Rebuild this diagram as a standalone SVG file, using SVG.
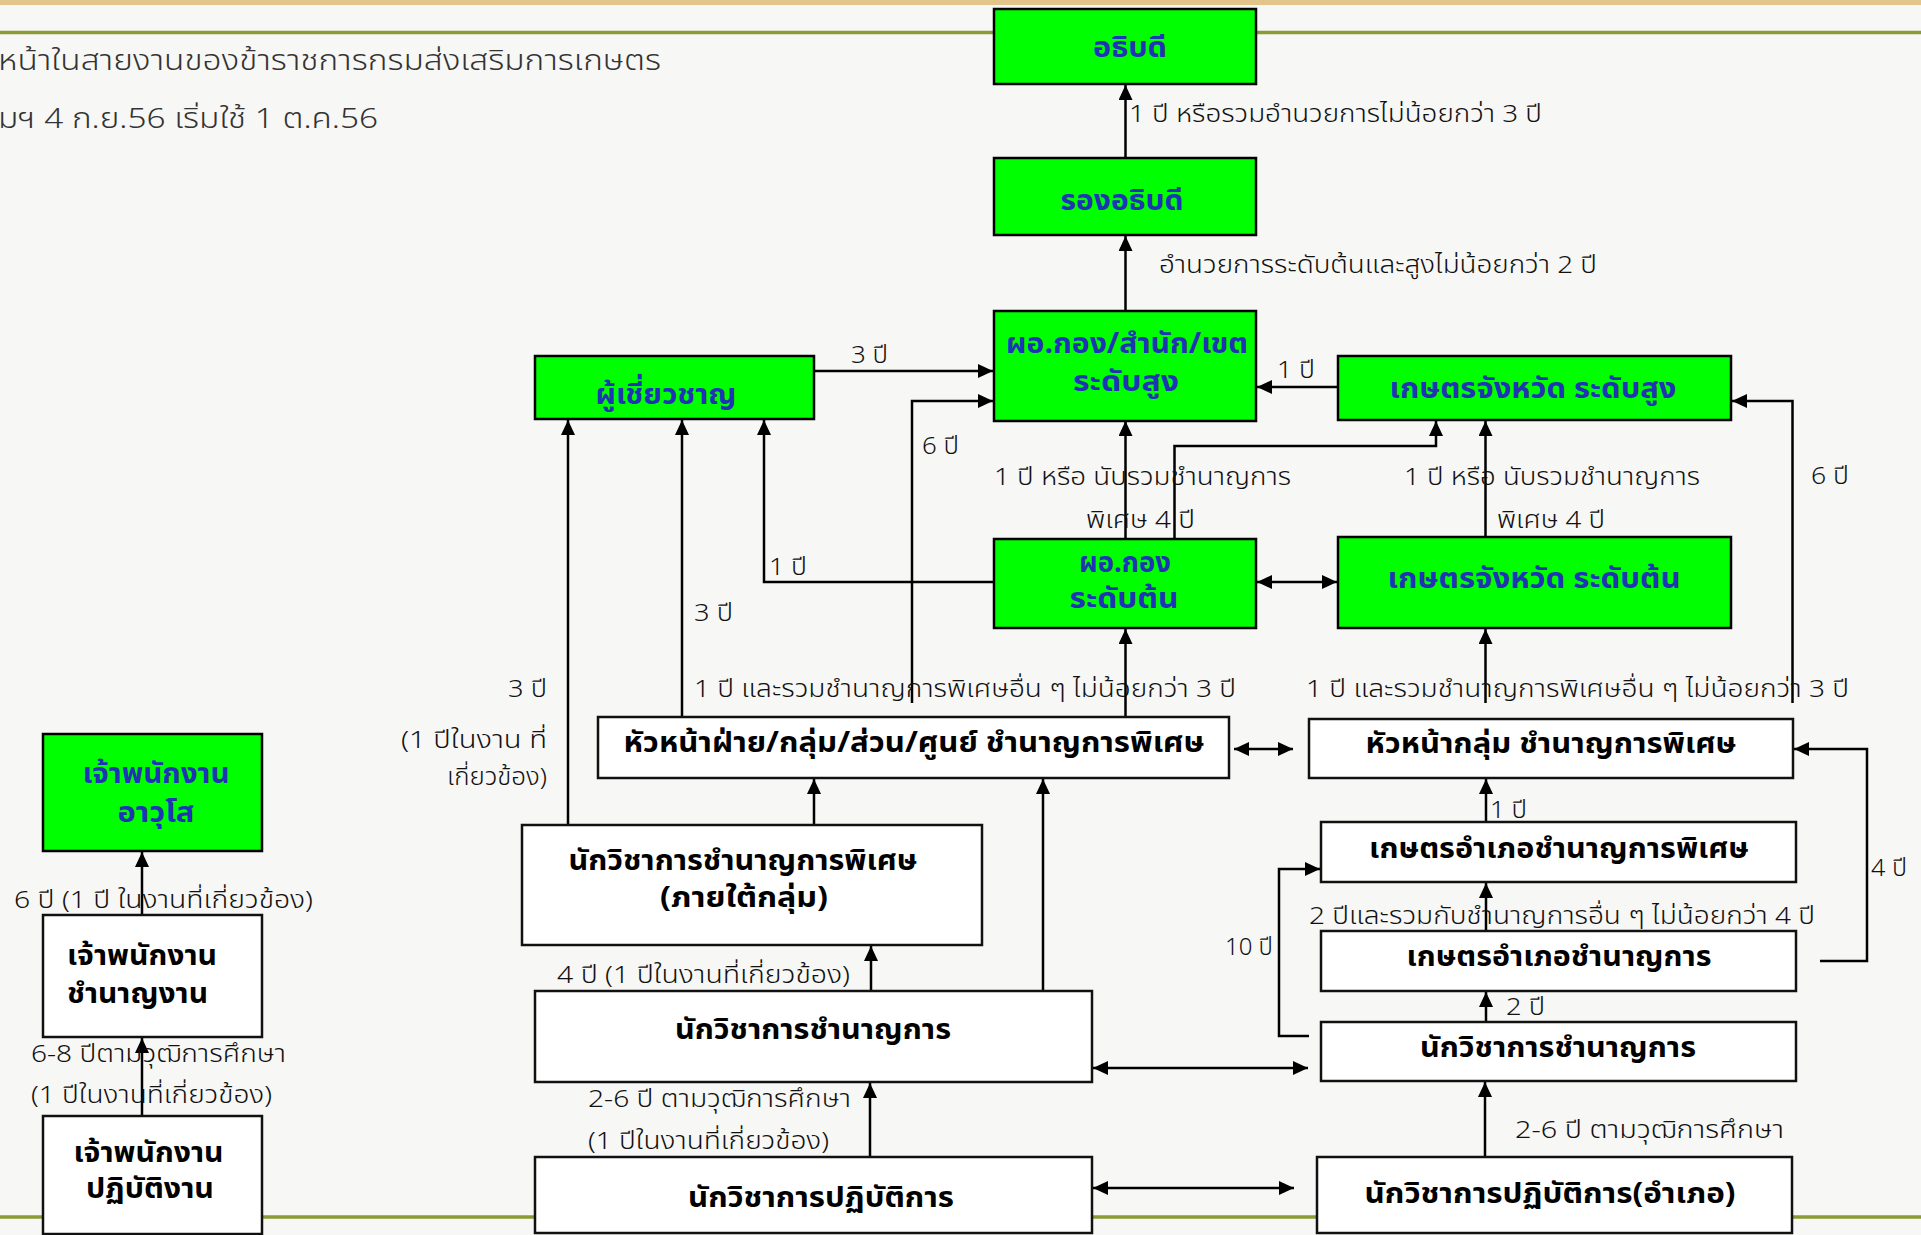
<svg xmlns="http://www.w3.org/2000/svg" width="1921" height="1235" viewBox="0 0 1921 1235">
<defs>
<style>
.lbl{font-family:"Noto Sans Thai","Noto Sans","DejaVu Sans",sans-serif;font-size:24px;font-weight:300;fill:#111}
.hd{font-family:"Noto Sans Thai","Noto Sans","DejaVu Sans",sans-serif;font-size:28px;font-weight:300;fill:#333}
.nt{font-family:"Noto Sans Thai","Noto Sans","DejaVu Sans",sans-serif;font-size:29px;font-weight:700;fill:#000;text-anchor:middle}
.gt{fill:#1f33b5}
.gbox{fill:#00ff00;stroke:#000;stroke-width:2.5}
.wbox{fill:#fff;stroke:#111;stroke-width:2.5}
.c{fill:none;stroke:#000;stroke-width:2.5}
.a{marker-end:url(#ah)}
.d{marker-start:url(#ah);marker-end:url(#ah)}
</style>
<marker id="ah" markerUnits="userSpaceOnUse" markerWidth="16" markerHeight="16" refX="15" refY="7" orient="auto-start-reverse">
<path d="M0,0 L15,7 L0,14 z" fill="#000"/>
</marker>
</defs>

<!-- page background and rules -->
<rect x="0" y="0" width="1921" height="1235" fill="#f7f7f5"/>
<rect x="0" y="0" width="1921" height="5" fill="#e3c48a"/>
<line x1="0" y1="32.5" x2="1921" y2="32.5" stroke="#8a9b35" stroke-width="3.5"/>
<line x1="0" y1="1217" x2="1921" y2="1217" stroke="#8a9b35" stroke-width="3.5"/>

<!-- heading -->
<text class="hd" x="-2" y="70" textLength="663" lengthAdjust="spacingAndGlyphs">หน้าในสายงานของข้าราชการกรมส่งเสริมการเกษตร</text>
<text class="hd" x="-2" y="128" textLength="380" lengthAdjust="spacingAndGlyphs">มฯ 4 ก.ย.56 เริ่มใช้ 1 ต.ค.56</text>

<!-- connectors -->
<g id="connectors">
<path class="c a" d="M1125.5,158 V85"/>
<path class="c a" d="M1125.5,311 V236"/>
<path class="c a" d="M1338,387 H1257"/>
<path class="c a" d="M814,371 H993"/>
<path class="c a" d="M912,703 V401 H993"/>
<path class="c a" d="M1125.5,539 V421"/>
<path class="c a" d="M1174.5,539 V446 H1436 V421"/>
<path class="c a" d="M1485.5,537 V421"/>
<path class="c d" d="M1257,582 H1337"/>
<path class="c a" d="M1792.5,703 V401 H1732"/>
<path class="c a" d="M1125.5,717 V629"/>
<path class="c a" d="M1485.5,703 V629"/>
<path class="c a" d="M568,825 V420"/>
<path class="c a" d="M682,717 V420"/>
<path class="c a" d="M994,582 H764 V420"/>
<path class="c d" d="M1234,749 H1293"/>
<path class="c a" d="M1820,961 H1867 V749 H1794"/>
<path class="c a" d="M814,825 V779"/>
<path class="c a" d="M1043,991 V779"/>
<path class="c a" d="M871,991 V946"/>
<path class="c a" d="M870,1157 V1083"/>
<path class="c d" d="M1093,1068 H1308"/>
<path class="c d" d="M1093,1188 H1294"/>
<path class="c a" d="M1486,822 V779"/>
<path class="c a" d="M1486,931 V883"/>
<path class="c a" d="M1486,1022 V992"/>
<path class="c a" d="M1309,1036 H1279 V869 H1320"/>
<path class="c a" d="M1485,1157 V1082"/>
<path class="c a" d="M142,1116 V1038"/>
<path class="c a" d="M142,915 V852"/>
</g>

<!-- connector labels -->
<g id="labels">
<text class="lbl" x="1129" y="122" textLength="413" lengthAdjust="spacingAndGlyphs">1 ปี หรือรวมอำนวยการไม่น้อยกว่า 3 ปี</text>
<text class="lbl" x="1159" y="273" textLength="438" lengthAdjust="spacingAndGlyphs">อำนวยการระดับต้นและสูงไม่น้อยกว่า 2 ปี</text>
<text class="lbl" x="851" y="363" textLength="37" lengthAdjust="spacingAndGlyphs">3 ปี</text>
<text class="lbl" x="1277" y="378" textLength="38" lengthAdjust="spacingAndGlyphs">1 ปี</text>
<text class="lbl" x="922" y="454" textLength="37" lengthAdjust="spacingAndGlyphs">6 ปี</text>
<text class="lbl" x="994" y="485" textLength="297" lengthAdjust="spacingAndGlyphs">1 ปี หรือ นับรวมชำนาญการ</text>
<text class="lbl" x="1086" y="528" textLength="109" lengthAdjust="spacingAndGlyphs">พิเศษ 4 ปี</text>
<text class="lbl" x="1404" y="485" textLength="296" lengthAdjust="spacingAndGlyphs">1 ปี หรือ นับรวมชำนาญการ</text>
<text class="lbl" x="1497" y="528" textLength="108" lengthAdjust="spacingAndGlyphs">พิเศษ 4 ปี</text>
<text class="lbl" x="1811" y="484" textLength="38" lengthAdjust="spacingAndGlyphs">6 ปี</text>
<text class="lbl" x="769" y="575" textLength="38" lengthAdjust="spacingAndGlyphs">1 ปี</text>
<text class="lbl" x="694" y="621" textLength="39" lengthAdjust="spacingAndGlyphs">3 ปี</text>
<text class="lbl" x="508" y="697" textLength="39" lengthAdjust="spacingAndGlyphs">3 ปี</text>
<text class="lbl" x="401" y="748" textLength="146" lengthAdjust="spacingAndGlyphs">(1 ปีในงาน ที่</text>
<text class="lbl" x="447" y="785" textLength="100" lengthAdjust="spacingAndGlyphs">เกี่ยวข้อง)</text>
<text class="lbl" x="694" y="697" textLength="542" lengthAdjust="spacingAndGlyphs">1 ปี และรวมชำนาญการพิเศษอื่น ๆ ไม่น้อยกว่า 3 ปี</text>
<text class="lbl" x="1306" y="697" textLength="543" lengthAdjust="spacingAndGlyphs">1 ปี และรวมชำนาญการพิเศษอื่น ๆ ไม่น้อยกว่า 3 ปี</text>
<text class="lbl" x="1490" y="818" textLength="37" lengthAdjust="spacingAndGlyphs">1 ปี</text>
<text class="lbl" x="1871" y="876" textLength="36" lengthAdjust="spacingAndGlyphs">4 ปี</text>
<text class="lbl" x="1309" y="924" textLength="506" lengthAdjust="spacingAndGlyphs">2 ปีและรวมกับชำนาญการอื่น ๆ ไม่น้อยกว่า 4 ปี</text>
<text class="lbl" x="1225" y="955" textLength="48" lengthAdjust="spacingAndGlyphs">10 ปี</text>
<text class="lbl" x="1506" y="1015" textLength="39" lengthAdjust="spacingAndGlyphs">2 ปี</text>
<text class="lbl" x="1515" y="1138" textLength="269" lengthAdjust="spacingAndGlyphs">2-6 ปี  ตามวุฒิการศึกษา</text>
<text class="lbl" x="557" y="983" textLength="293" lengthAdjust="spacingAndGlyphs">4 ปี (1 ปีในงานที่เกี่ยวข้อง)</text>
<text class="lbl" x="588" y="1107" textLength="263" lengthAdjust="spacingAndGlyphs">2-6 ปี ตามวุฒิการศึกษา</text>
<text class="lbl" x="588" y="1149" textLength="241" lengthAdjust="spacingAndGlyphs">(1 ปีในงานที่เกี่ยวข้อง)</text>
<text class="lbl" x="14" y="908" textLength="299" lengthAdjust="spacingAndGlyphs">6 ปี (1 ปี ในงานที่เกี่ยวข้อง)</text>
<text class="lbl" x="31" y="1062" textLength="255" lengthAdjust="spacingAndGlyphs">6-8 ปีตามวุฒิการศึกษา</text>
<text class="lbl" x="31" y="1103" textLength="241" lengthAdjust="spacingAndGlyphs">(1 ปีในงานที่เกี่ยวข้อง)</text>
</g>

<!-- green (executive/director) positions -->
<g id="n-director-general">
<rect class="gbox" x="994" y="9" width="262" height="75"/>
<text class="nt gt" x="1130" y="57" textLength="74" lengthAdjust="spacingAndGlyphs">อธิบดี</text>
</g>
<g id="n-deputy">
<rect class="gbox" x="994" y="158" width="262" height="77"/>
<text class="nt gt" x="1122" y="210" textLength="123" lengthAdjust="spacingAndGlyphs">รองอธิบดี</text>
</g>
<g id="n-director-high">
<rect class="gbox" x="994" y="311" width="262" height="110"/>
<text class="nt gt" x="1127" y="353" textLength="242" lengthAdjust="spacingAndGlyphs">ผอ.กอง/สำนัก/เขต</text>
<text class="nt gt" x="1126" y="391" textLength="106" lengthAdjust="spacingAndGlyphs">ระดับสูง</text>
</g>
<g id="n-expert">
<rect class="gbox" x="535" y="356" width="279" height="63"/>
<text class="nt gt" x="666" y="404" textLength="141" lengthAdjust="spacingAndGlyphs">ผู้เชี่ยวชาญ</text>
</g>
<g id="n-province-high">
<rect class="gbox" x="1338" y="356" width="393" height="64"/>
<text class="nt gt" x="1533" y="398" textLength="287" lengthAdjust="spacingAndGlyphs">เกษตรจังหวัด ระดับสูง</text>
</g>
<g id="n-director-low">
<rect class="gbox" x="994" y="539" width="262" height="89"/>
<text class="nt gt" x="1125" y="572" textLength="92" lengthAdjust="spacingAndGlyphs">ผอ.กอง</text>
<text class="nt gt" x="1124" y="608" textLength="109" lengthAdjust="spacingAndGlyphs">ระดับต้น</text>
</g>
<g id="n-province-low">
<rect class="gbox" x="1338" y="537" width="393" height="91"/>
<text class="nt gt" x="1534" y="588" textLength="293" lengthAdjust="spacingAndGlyphs">เกษตรจังหวัด ระดับต้น</text>
</g>
<g id="n-officer-senior">
<rect class="gbox" x="43" y="734" width="219" height="117"/>
<text class="nt gt" x="156" y="783" textLength="147" lengthAdjust="spacingAndGlyphs">เจ้าพนักงาน</text>
<text class="nt gt" x="156" y="822" textLength="77" lengthAdjust="spacingAndGlyphs">อาวุโส</text>
</g>

<!-- white (academic / support) positions -->
<g id="n-head-division">
<rect class="wbox" x="598" y="717" width="631" height="61"/>
<text class="nt" x="914" y="752" textLength="581" lengthAdjust="spacingAndGlyphs">หัวหน้าฝ่าย/กลุ่ม/ส่วน/ศูนย์ ชำนาญการพิเศษ</text>
</g>
<g id="n-head-group">
<rect class="wbox" x="1309" y="719" width="484" height="59"/>
<text class="nt" x="1551" y="753" textLength="371" lengthAdjust="spacingAndGlyphs">หัวหน้ากลุ่ม ชำนาญการพิเศษ</text>
</g>
<g id="n-academic-senior">
<rect class="wbox" x="522" y="825" width="460" height="120"/>
<text class="nt" x="743" y="870" textLength="349" lengthAdjust="spacingAndGlyphs">นักวิชาการชำนาญการพิเศษ</text>
<text class="nt" x="744" y="907" textLength="168" lengthAdjust="spacingAndGlyphs">(ภายใต้กลุ่ม)</text>
</g>
<g id="n-academic-pro">
<rect class="wbox" x="535" y="991" width="557" height="91"/>
<text class="nt" x="813" y="1039" textLength="276" lengthAdjust="spacingAndGlyphs">นักวิชาการชำนาญการ</text>
</g>
<g id="n-academic-op">
<rect class="wbox" x="535" y="1157" width="557" height="76"/>
<text class="nt" x="821" y="1207" textLength="266" lengthAdjust="spacingAndGlyphs">นักวิชาการปฏิบัติการ</text>
</g>
<g id="n-district-senior">
<rect class="wbox" x="1321" y="822" width="475" height="60"/>
<text class="nt" x="1559" y="858" textLength="380" lengthAdjust="spacingAndGlyphs">เกษตรอำเภอชำนาญการพิเศษ</text>
</g>
<g id="n-district-pro">
<rect class="wbox" x="1321" y="931" width="475" height="60"/>
<text class="nt" x="1559" y="966" textLength="305" lengthAdjust="spacingAndGlyphs">เกษตรอำเภอชำนาญการ</text>
</g>
<g id="n-academic-pro-district">
<rect class="wbox" x="1321" y="1022" width="475" height="59"/>
<text class="nt" x="1558" y="1057" textLength="276" lengthAdjust="spacingAndGlyphs">นักวิชาการชำนาญการ</text>
</g>
<g id="n-academic-op-district">
<rect class="wbox" x="1317" y="1157" width="475" height="76"/>
<text class="nt" x="1550" y="1203" textLength="371" lengthAdjust="spacingAndGlyphs">นักวิชาการปฏิบัติการ(อำเภอ)</text>
</g>
<g id="n-officer-pro">
<rect class="wbox" x="43" y="915" width="219" height="122"/>
<text class="nt" x="67" y="965" style="text-anchor:start" textLength="150" lengthAdjust="spacingAndGlyphs">เจ้าพนักงาน</text>
<text class="nt" x="67" y="1003" style="text-anchor:start" textLength="141" lengthAdjust="spacingAndGlyphs">ชำนาญงาน</text>
</g>
<g id="n-officer-op">
<rect class="wbox" x="43" y="1116" width="219" height="118"/>
<text class="nt" x="148.5" y="1162" textLength="150" lengthAdjust="spacingAndGlyphs">เจ้าพนักงาน</text>
<text class="nt" x="150" y="1198" textLength="128" lengthAdjust="spacingAndGlyphs">ปฏิบัติงาน</text>
</g>
</svg>
